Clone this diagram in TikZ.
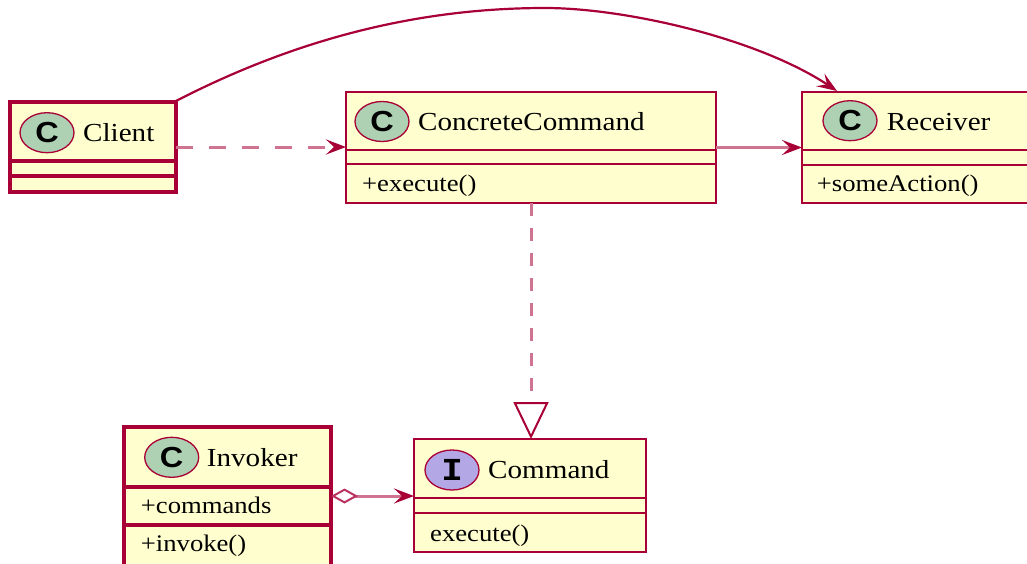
\documentclass[tikz,border=0pt]{standalone}
\usepackage{fontspec}
\setmainfont{Liberation Serif}[FakeStretch=1.12]
\newfontfamily\spotfont{Liberation Sans}[FakeStretch=1.12]
\newfontfamily\ifacefont{Liberation Mono}[FakeStretch=1.12]
\usetikzlibrary{arrows.meta,shapes.geometric}
\definecolor{umlborder}{HTML}{A80036}
\definecolor{umlfill}{HTML}{FEFECE}
\definecolor{spotclass}{HTML}{ADD1B2}
\definecolor{spotiface}{HTML}{B4A7E5}

\begin{document}
\begin{tikzpicture}[x=1pt,y=-1pt,
  classbox/.style={rectangle, draw=umlborder, fill=umlfill, line width=#1,
    anchor=north west, inner sep=0pt, outer sep=0pt},
  classbox/.default=2.8pt,
  divider/.style={draw=umlborder, line width=#1},
  divider/.default=2.2pt,
  spot/.style={ellipse, draw=umlborder, line width=1.3pt, fill=#1,
    minimum width=54pt, minimum height=40pt, inner sep=0pt},
  spotletter/.style={font=\spotfont\bfseries\fontsize{29}{30}\selectfont},
  title/.style={anchor=base west, inner sep=0pt, font=\fontsize{26}{30}\selectfont},
  member/.style={anchor=base west, inner sep=0pt, font=\fontsize{23.8}{28}\selectfont},
  conn/.style={draw=umlborder!55, line width=3pt},
  headtip/.style={-{Stealth[length=20pt, width=15pt, inset=8pt, color=umlborder]}}
]
\useasboundingbox (0,0) rectangle (1027,563);

% class boxes
\node[classbox=3.4pt, minimum width=166pt, minimum height=90pt] (client) at (10,102) {};
\node[classbox, minimum width=370pt, minimum height=111pt] (cc) at (346,92) {};
\node[classbox, minimum width=250pt, minimum height=111pt] (recv) at (802,92) {};
\node[classbox, minimum width=232pt, minimum height=113pt] (cmd) at (414,439) {};
\node[classbox=3.4pt, minimum width=207pt, minimum height=160pt] (inv) at (124,427) {};

% compartment separators
\draw[divider=3.2pt] (10,161) -- (176,161);
\draw[divider=3.2pt] (10,176) -- (176,176);
\draw[divider] (346,150) -- (716,150);
\draw[divider] (346,164) -- (716,164);
\draw[divider] (802,150) -- (1052,150);
\draw[divider] (802,165) -- (1052,165);
\draw[divider] (414,498) -- (646,498);
\draw[divider] (414,513) -- (646,513);
\draw[divider=3.2pt] (124,487) -- (331,487);
\draw[divider=3.2pt] (124,525) -- (331,525);

% class spots
\node[spot=spotclass, spotletter] (clientspot) at (47,132.7) {C};
\node[spot=spotclass, spotletter] (ccspot) at (382,121.5) {C};
\node[spot=spotclass, spotletter] (recvspot) at (850,120.7) {C};
\node[spot=spotclass, spotletter] (invspot) at (171.7,457.3) {C};
\node[spot=spotiface, font=\ifacefont\bfseries\fontsize{32}{34}\selectfont] (cmdspot) at (452,470) {I};

% class names
\node[title] (clientname) at (83,141.7) {Client};
\node[title] (ccname) at (418,130.7) {ConcreteCommand};
\node[title] (recvname) at (886.7,130) {Receiver};
\node[title] (invname) at (206.7,466.7) {Invoker};
\node[title] (cmdname) at (488,478.5) {Command};

% members
\node[member] (ccop) at (362,191.5) {+execute()};
\node[member] (recvop) at (816.7,191.7) {+someAction()};
\node[member] (invattr) at (140.7,513) {+commands};
\node[member] (invop) at (140.7,551.7) {+invoke()};
\node[member] (cmdop) at (430,541.7) {execute()};

% relations
\draw[conn, dash pattern=on 17pt off 16pt, headtip]
  (client.east) -- (client.east -| cc.west);
\draw[conn, headtip] (cc.east) -- (recv.west);
\draw[conn, dash pattern=on 13pt off 12pt,
  -{Triangle[open, length=37pt, width=35pt, line width=2pt, color=umlborder]}]
  (cc.south) -- (cc.south |- cmd.north);
\coordinate (aggr) at (331,496);
\draw[conn,
  {Diamond[open, length=27pt, width=15pt, line width=2pt, color=umlborder!80]}-{Stealth[length=20pt, width=15pt, inset=8pt, color=umlborder]}]
  (aggr) -- (aggr -| cmd.west);
\coordinate (arcpeak) at (545,8);
\coordinate (recvtop) at (837,91);
\draw[draw=umlborder, line width=2.2pt, headtip]
  ([xshift=-2pt]client.north east) .. controls (293,40.4) and (415,8) .. (arcpeak)
  .. controls (625,8) and (757,38) .. (recvtop);
\end{tikzpicture}
\end{document}
